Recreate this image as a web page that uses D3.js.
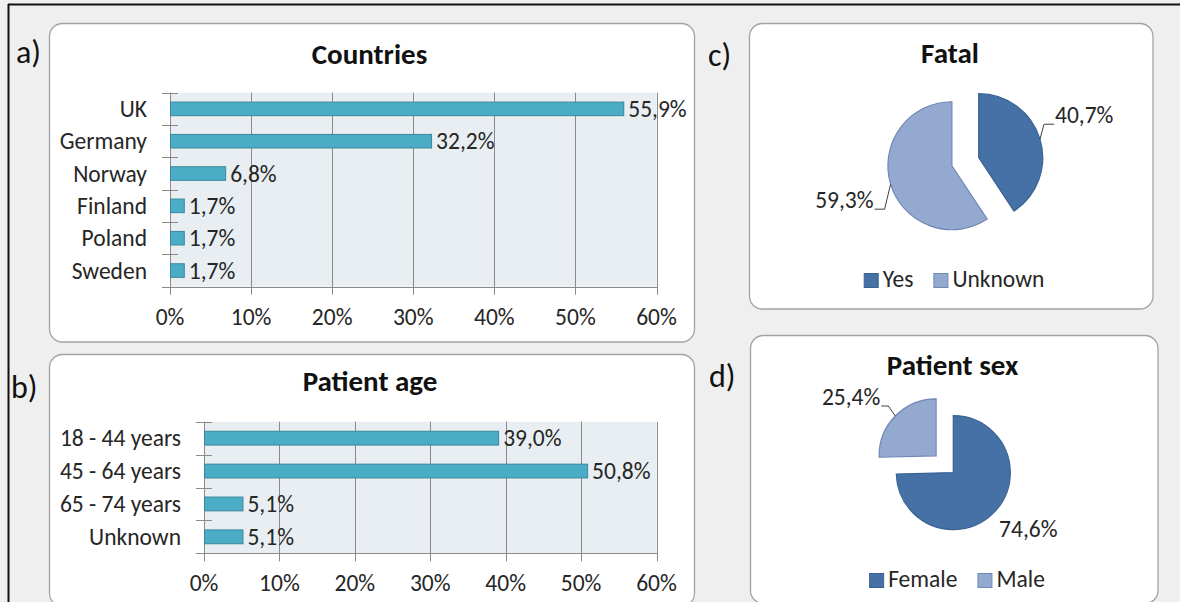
<!DOCTYPE html>
<html><head><meta charset="utf-8">
<script src="https://cdn.jsdelivr.net/npm/d3@7"></script>
<style>
html,body{margin:0;padding:0;background:#efefef;}
svg{display:block;}
text{font-family:Carlito,Lato,"Open Sans",sans-serif;fill:#262626;}
</style></head>
<body>
<svg id="chart" width="1180" height="602"></svg>
<script>
// ---- data ----
const countries = ["UK","Germany","Norway","Finland","Poland","Sweden"];
const countryValues = [55.9, 32.2, 6.8, 1.7, 1.7, 1.7];
const ageGroups = ["18 - 44 years","45 - 64 years","65 - 74 years","Unknown"];
const ageValues = [39.0, 50.8, 5.1, 5.1];
const xTicks = [0,10,20,30,40,50,60];
const fatalLabels = ["Yes","Unknown"];
const fatalValues = [40.7, 59.3];
const sexLabels = ["Female","Male"];
const sexValues = [74.6, 25.4];

const FS = 23.5;
const svg = d3.select("#chart");
const fmt = v => d3.format(".1f")(v).replace(".", ",") + "%";

svg.append("rect").attr("width",1180).attr("height",602).attr("fill","#efefef");
svg.append("line").attr("x1",8).attr("x2",1180).attr("y1",4.5).attr("y2",4.5).attr("stroke","#111").attr("stroke-width",2);
svg.append("line").attr("x1",8.5).attr("x2",8.5).attr("y1",4).attr("y2",602).attr("stroke","#111").attr("stroke-width",2);

function panel(x,y,w,h){
  svg.append("rect").attr("x",x).attr("y",y).attr("width",w).attr("height",h)
    .attr("rx",13).attr("fill","#fff").attr("stroke","#a3a3a3").attr("stroke-width",1.3);
}
panel(49.5,23.5,645,318.5);
panel(49.5,354.5,645,252);
panel(749.5,23.5,403.5,285.5);
panel(750.5,335.5,407.5,268);

function letter(t,x,y){
  svg.append("text").attr("x",x).attr("y",y).attr("font-size",32).style("fill","#111").text(t);
}
letter("a)",16,63); letter("b)",11,398); letter("c)",708,66); letter("d)",709,387);

function title(t,x,y){
  svg.append("text").attr("x",x).attr("y",y).attr("text-anchor","middle")
    .attr("font-size",29).attr("font-weight","bold").style("fill","#111").text(t);
}

function barChart(cats, vals, x0, x1, y0, y1, ttl, tx, ty){
  title(ttl, tx, ty);
  const x = d3.scaleLinear().domain([0,60]).range([x0,x1]);
  const y = d3.scaleBand().domain(cats).range([y0,y1]).padding(0);
  const g = svg.append("g");
  g.append("rect").attr("x",x0).attr("y",y0).attr("width",x1-x0).attr("height",y1-y0).attr("fill","#e8eef2");
  g.selectAll(".grid").data(xTicks).enter().append("line")
    .attr("x1",d=>Math.round(x(d))+0.5).attr("x2",d=>Math.round(x(d))+0.5)
    .attr("y1",y0).attr("y2",y1+8).attr("stroke","#8a8a8a").attr("stroke-width",1);
  g.append("line").attr("x1",x0).attr("x2",x1+0.5).attr("y1",Math.round(y1)+0.5).attr("y2",Math.round(y1)+0.5)
    .attr("stroke","#8a8a8a");
  const edges = cats.map(c=>y(c)).concat([y1]);
  g.selectAll(".yt").data(edges).enter().append("line")
    .attr("x1",x0-8).attr("x2",x0+8).attr("y1",d=>Math.round(d)+0.5).attr("y2",d=>Math.round(d)+0.5)
    .attr("stroke","#8a8a8a");
  g.selectAll(".xl").data(xTicks).enter().append("text")
    .attr("x",d=>x(d)).attr("y",y1+38).attr("text-anchor","middle").attr("font-size",FS)
    .text(d=>d+"%");
  const bh = y.bandwidth()*0.42;
  const data = cats.map((c,i)=>({c, v: vals[i]}));
  g.selectAll(".bar").data(data).enter().append("rect")
    .attr("x",x0+0.5).attr("y",d=>y(d.c)+(y.bandwidth()-bh)/2)
    .attr("width",d=>x(d.v)-x0).attr("height",bh)
    .attr("fill","#4bacc6").attr("stroke","#3a879c").attr("stroke-width",1);
  g.selectAll(".vl").data(data).enter().append("text")
    .attr("x",d=>x(d.v)+5).attr("y",d=>y(d.c)+y.bandwidth()/2+8).attr("font-size",FS)
    .text(d=>fmt(d.v));
  g.selectAll(".cl").data(data).enter().append("text")
    .attr("x",x0-23).attr("y",d=>y(d.c)+y.bandwidth()/2+8).attr("text-anchor","end").attr("font-size",FS)
    .text(d=>d.c);
}
barChart(countries, countryValues, 170, 656.5, 92.7, 286.7, "Countries", 369.5, 64);
barChart(ageGroups, ageValues, 204, 656.5, 421.7, 553.3, "Patient age", 370, 391);

const dark = {fill:"#4571a6", stroke:"#3a6193"};
const light = {fill:"#94a9cf", stroke:"#6f88b6"};

function pieChart(labels, vals, cx, cy, r, expl, styles, ttl, tx, ty, legendY, legendCx, labelCfg){
  title(ttl, tx, ty);
  const pie = d3.pie().sort(null).value(d=>d)(vals);
  const arc = d3.arc().innerRadius(0).outerRadius(r);
  const g = svg.append("g");
  pie.forEach((p,i)=>{
    const mid = (p.startAngle+p.endAngle)/2;
    const dx = Math.sin(mid)*expl, dy = -Math.cos(mid)*expl;
    const ox = cx+dx, oy = cy+dy;
    g.append("path").attr("d",arc(p)).attr("transform",`translate(${ox},${oy})`)
      .attr("fill",styles[i].fill).attr("stroke",styles[i].stroke).attr("stroke-width",1.2);
    const p0x = ox+Math.sin(mid)*r, p0y = oy-Math.cos(mid)*r;
    const c = labelCfg[i];
    if (c.leader){
      const p1x = p0x+c.d1[0], p1y = p0y+c.d1[1];
      const p2x = p1x+c.d2, p2y = p1y;
      g.append("polyline").attr("points",`${p0x},${p0y} ${p1x},${p1y} ${p2x},${p2y}`)
        .attr("fill","none").attr("stroke","#404040").attr("stroke-width",1);
      g.append("text").attr("x",p2x+(c.d2>0?1:-1)).attr("y",p2y-1)
        .attr("text-anchor",c.d2>0?"start":"end").attr("font-size",FS).text(fmt(vals[i]));
    } else {
      g.append("text").attr("x",p0x+c.d1[0]).attr("y",p0y+c.d1[1]).attr("font-size",FS).text(fmt(vals[i]));
    }
  });
  const lg = svg.append("g");
  let xpos = 0;
  labels.forEach((l,i)=>{
    const it = lg.append("g").attr("transform",`translate(${xpos},0)`);
    it.append("rect").attr("x",0.5).attr("y",legendY+0.5).attr("width",14).attr("height",14)
      .attr("fill",styles[i].fill).attr("stroke",styles[i].stroke);
    const t = it.append("text").attr("x",19).attr("y",legendY+14).attr("font-size",FS).text(l);
    const w = 19 + t.node().getComputedTextLength();
    xpos += w + 20;
  });
  const total = xpos - 20;
  lg.attr("transform",`translate(${legendCx-total/2},0)`);
}

pieChart(fatalLabels, fatalValues, 965.3, 161.7, 64, 14, [dark, light], "Fatal", 950, 63, 273, 954,
  [{leader:true, d1:[4,-15], d2:10}, {leader:true, d1:[-6,25], d2:-10}]);
pieChart(sexLabels, sexValues, 944.7, 464.2, 57, 12, [dark, light], "Patient sex", 952.5, 375, 573, 957,
  [{leader:false, d1:[5,25]}, {leader:true, d1:[-7,-10], d2:-7}]);
</script>
</body></html>
